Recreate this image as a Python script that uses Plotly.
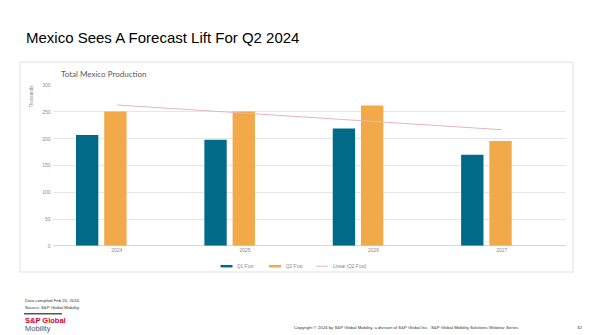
import numpy as np
import plotly.graph_objects as go

years = ["2024", "2025", "2026", "2027"]
q1_fcst = [207, 198, 219, 170]
q2_fcst = [251, 251, 262, 196]
y_ticks = [0, 50, 100, 150, 200, 250, 300]

W, H = 602, 335
def px(x): return x / W
def py(y): return 1 - y / H

TEAL = "#006B88"
ORANGE = "#F1A94A"
PINK = "#E8B4BE"

# linear trend of Q2 forecast
idx = np.arange(len(years))
coef = np.polyfit(idx, q2_fcst, 1)
trend = np.polyval(coef, idx)

BAR_W = 0.174
fig = go.Figure()
fig.add_trace(go.Bar(x=years, y=q1_fcst, name="Q1 F'cst", marker_color=TEAL, showlegend=False,
                     width=BAR_W, offset=-0.317, marker_line_width=0))
fig.add_trace(go.Bar(x=years, y=q2_fcst, name="Q2 F'cst", marker_color=ORANGE, showlegend=False,
                     width=BAR_W, offset=-0.097, marker_line_width=0))
fig.add_trace(go.Scatter(x=years, y=trend, mode="lines", name="Linear (Q2 F'cst)",
                         line=dict(color=PINK, width=1), showlegend=False))

fig.update_layout(
    width=W, height=H,
    margin=dict(l=0, r=0, t=0, b=0),
    paper_bgcolor="white", plot_bgcolor="white",
    barmode="overlay",
    font=dict(family="Liberation Sans, Arial", color="#7f7f7f"),
    xaxis=dict(domain=[px(52.5), px(566)], range=[-0.5, 3.5], showgrid=False,
               showline=False, ticks="", tickfont=dict(size=5, color="#8c8c8c"),
               fixedrange=True),
    yaxis=dict(domain=[py(247.3), py(83.7)], range=[0, 300], tickvals=y_ticks,
               showgrid=True, gridcolor="#e6e6e6", gridwidth=1, zeroline=True,
               zerolinecolor="#d6d6d6", zerolinewidth=1, showline=False,
               tickfont=dict(size=5, color="#8c8c8c"), ticks="", ticklabelstandoff=1),
)

shapes = [
    dict(type="rect", xref="paper", yref="paper", x0=px(20), x1=px(573), y0=py(274), y1=py(60),
         line=dict(color="#ebebeb", width=1.5), fillcolor="rgba(0,0,0,0)", layer="below"),
    dict(type="line", xref="paper", yref="paper", x0=px(24), x1=px(62), y0=py(316.5), y1=py(316.5),
         line=dict(color="black", width=1)),
    # legend symbols
    dict(type="line", xref="paper", yref="paper", x0=px(220.5), x1=px(232.5), y0=py(268), y1=py(268),
         line=dict(color=TEAL, width=2.5)),
    dict(type="line", xref="paper", yref="paper", x0=px(269), x1=px(281), y0=py(268), y1=py(268),
         line=dict(color=ORANGE, width=2.5)),
    dict(type="line", xref="paper", yref="paper", x0=px(316), x1=px(328), y0=py(268), y1=py(268),
         line=dict(color=PINK, width=1)),
]

def ann(text, x, y, size, color, family="Liberation Sans, Arial", xanchor="left", angle=0, bold=False):
    if bold:
        text = "<b>" + text + "</b>"
    return dict(text=text, x=px(x), y=py(y), xref="paper", yref="paper", showarrow=False,
                xanchor=xanchor, yanchor="middle", textangle=angle,
                font=dict(size=size, color=color, family=family))

annotations = [
    ann("Mexico Sees A Forecast Lift For Q2 2024", 24, 35, 15, "#000000"),
    ann("Total Mexico Production", 59, 72.5, 8, "#595959", family="Lato, Open Sans"),
    ann("Thousands", 31.5, 95, 4.5, "#8c8c8c", xanchor="center", angle=-90),
    ann("Q1 F'cst", 235, 268, 4.5, "#7f7f7f"),
    ann("Q2 F'cst", 283.5, 268, 4.5, "#7f7f7f"),
    ann("Linear (Q2 F'cst)", 331, 268, 4.5, "#7f7f7f"),
    ann("Data compiled Feb 20, 2024.", 23, 303, 4.3, "#333333"),
    ann("Source: S&P Global Mobility.", 23, 310, 4.3, "#333333"),
    ann("S&P Global", 23, 323, 7.5, "#D6002A", bold=True),
    ann("Mobility", 23, 331.5, 7.5, "#555555"),
    ann("Copyright © 2024 by S&P Global Mobility, a division of S&P Global Inc.  S&P Global Mobility Solutions Webinar Series",
        292, 330, 4.3, "#333333"),
    ann("32", 575, 330, 4.3, "#333333"),
]

fig.update_layout(shapes=shapes, annotations=annotations)
fig.write_html("out.html")
